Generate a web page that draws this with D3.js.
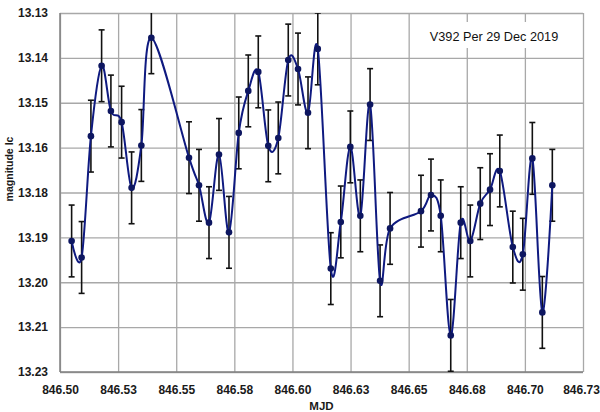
<!DOCTYPE html>
<html>
<head>
<meta charset="utf-8">
<script src="https://cdn.jsdelivr.net/npm/d3@7"></script>
<style>
  body { margin: 0; background: #fff; }
  svg { display: block; font-family: "Liberation Sans", Arial, sans-serif; }
</style>
</head>
<body>
<script>
// light curve data
const mjd = [846.5050, 846.5093, 846.5133, 846.5179, 846.5219, 846.5265, 846.5308, 846.5350, 846.5393,
  846.5555, 846.5598, 846.5641, 846.5684, 846.5727, 846.5769, 846.5810, 846.5853, 846.5896, 846.5939,
  846.5982, 846.6024, 846.6067, 846.6109, 846.6165, 846.6208, 846.6249, 846.6292, 846.6334, 846.6377,
  846.6420, 846.6553, 846.6596, 846.6638, 846.6681, 846.6724, 846.6765, 846.6808, 846.6850, 846.6892,
  846.6948, 846.6991, 846.7032, 846.7075, 846.7118];
const mag = [13.1935, 13.1981, 13.1643, 13.1447, 13.1573, 13.1604, 13.1787, 13.1669, 13.1369,
  13.1703, 13.1780, 13.1884, 13.1694, 13.1911, 13.1634, 13.1517, 13.1464, 13.1670, 13.1648,
  13.1431, 13.1456, 13.1578, 13.1400, 13.2012, 13.1882, 13.1673, 13.1865, 13.1555, 13.2046,
  13.1900, 13.1852, 13.1807, 13.1865, 13.2198, 13.1884, 13.1935, 13.1831, 13.1792, 13.1740,
  13.1952, 13.1972, 13.1705, 13.2134, 13.1780];
const magErr = [0.01, 0.01, 0.01, 0.01, 0.01, 0.01, 0.01, 0.01, 0.01, 0.01, 0.01, 0.01, 0.01, 0.01, 0.01,
  0.01, 0.01, 0.01, 0.01, 0.01, 0.01, 0.01, 0.01, 0.01, 0.01, 0.01, 0.01, 0.01, 0.01, 0.01,
  0.01, 0.01, 0.01, 0.01, 0.01, 0.01, 0.01, 0.01, 0.01, 0.01, 0.01, 0.01, 0.01, 0.01];

const xTicks = [846.5, 846.525, 846.55, 846.575, 846.6, 846.625, 846.65, 846.675, 846.7, 846.725];
const xTickLabels = ["846.50", "846.53", "846.55", "846.58", "846.60", "846.63", "846.65", "846.68", "846.70", "846.73"];
const yTicks = [13.13, 13.1425, 13.155, 13.1675, 13.18, 13.1925, 13.205, 13.2175, 13.23];
const yTickLabels = ["13.13", "13.14", "13.15", "13.16", "13.18", "13.19", "13.20", "13.21", "13.23"];

const width = 600, height = 412;
const margin = { top: 13, right: 17, bottom: 40, left: 60 };
const plotW = width - margin.left - margin.right;
const plotH = height - margin.top - margin.bottom;

const data = mjd.map((d, i) => ({ x: d, y: mag[i], e: magErr[i] }));

let svg = d3.select("body")
    .append("svg")
    .attr("width", width)
    .attr("height", height);

svg.append("rect").attr("width", width).attr("height", height).attr("fill", "#fff");

let g = svg.append("g")
    .attr("transform", `translate(${margin.left}, ${margin.top})`);

let x = d3.scaleLinear()
    .domain([xTicks[0], xTicks[xTicks.length - 1]])
    .range([0, plotW]);

// magnitude axis runs downward
let y = d3.scaleLinear()
    .domain([yTicks[0], yTicks[yTicks.length - 1]])
    .range([0, plotH]);

//grid + x axis
let xAxis = g.append("g")
    .attr("transform", `translate(0, ${plotH})`)
    .call(d3.axisBottom(x)
        .tickValues(xTicks)
        .tickSize(plotH)
        .tickFormat((d, i) => xTickLabels[i]));
xAxis.select(".domain").remove();
xAxis.selectAll(".tick line")
    .attr("y2", -plotH)
    .attr("stroke", "#a8a8a8")
    .attr("stroke-width", 1.3);
xAxis.selectAll(".tick text")
    .attr("y", 22)
    .attr("dy", 0)
    .attr("dx", (d, i) => i === xTicks.length - 1 ? -2 : 0)
    .style("font-size", "12px")
    .style("font-weight", "bold")
    .attr("fill", "#1a1a1a");

//grid + y axis
let yAxis = g.append("g")
    .call(d3.axisLeft(y)
        .tickValues(yTicks)
        .tickSize(0)
        .tickFormat((d, i) => yTickLabels[i]));
yAxis.select(".domain").remove();
yAxis.selectAll(".tick line")
    .attr("x2", plotW)
    .attr("stroke", "#a8a8a8")
    .attr("stroke-width", 1.3);
yAxis.selectAll(".tick text")
    .attr("x", -12)
    .style("font-size", "12px")
    .style("font-weight", "bold")
    .attr("fill", "#1a1a1a");

// darker left and bottom axis lines
g.append("line").attr("x1", 0).attr("x2", 0).attr("y1", 0).attr("y2", plotH)
    .attr("stroke", "#808080").attr("stroke-width", 1.5);
g.append("line").attr("x1", 0).attr("x2", plotW).attr("y1", plotH).attr("y2", plotH)
    .attr("stroke", "#808080").attr("stroke-width", 1.5);

// title box sits over the grid
svg.append("rect")
    .attr("x", 420).attr("y", 22)
    .attr("width", 150).attr("height", 26)
    .attr("fill", "#fff");
svg.append("text")
    .attr("x", 494).attr("y", 41)
    .attr("text-anchor", "middle")
    .style("font-size", "12.7px")
    .attr("fill", "#111")
    .text("V392 Per 29 Dec 2019");

svg.append("clipPath").attr("id", "plot-clip")
    .append("rect").attr("width", plotW).attr("height", plotH);

let marks = g.append("g").attr("clip-path", "url(#plot-clip)");

//error bars
let bars = marks.append("g").selectAll("g")
    .data(data)
    .enter()
    .append("g")
    .attr("stroke", "#111")
    .attr("stroke-width", 1.6);
bars.append("line")
    .attr("x1", d => x(d.x)).attr("x2", d => x(d.x))
    .attr("y1", d => y(d.y - d.e)).attr("y2", d => y(d.y + d.e));
bars.append("line")
    .attr("x1", d => x(d.x) - 3).attr("x2", d => x(d.x) + 3)
    .attr("y1", d => y(d.y - d.e)).attr("y2", d => y(d.y - d.e));
bars.append("line")
    .attr("x1", d => x(d.x) - 3).attr("x2", d => x(d.x) + 3)
    .attr("y1", d => y(d.y + d.e)).attr("y2", d => y(d.y + d.e));

//smoothed line
marks.append("path")
    .datum(data)
    .attr("fill", "none")
    .attr("stroke", "#0f1a80")
    .attr("stroke-width", 2)
    .attr("d", d3.line()
        .x(d => x(d.x))
        .y(d => y(d.y))
        .curve(d3.curveCardinal.tension(0)));

marks.append("g").selectAll("circle")
    .data(data)
    .enter()
    .append("circle")
    .attr("cx", d => x(d.x))
    .attr("cy", d => y(d.y))
    .attr("r", 3.3)
    .attr("fill", "#0d1660");

//axis titles
svg.append("text")
    .attr("x", margin.left + plotW / 2)
    .attr("y", 410)
    .attr("text-anchor", "middle")
    .style("font-size", "11.5px")
    .style("font-weight", "bold")
    .attr("fill", "#1a1a1a")
    .text("MJD");

svg.append("text")
    .attr("transform", "translate(13, 169) rotate(-90)")
    .attr("text-anchor", "middle")
    .style("font-size", "10.5px")
    .style("font-weight", "bold")
    .attr("fill", "#1a1a1a")
    .text("magnitude Ic");
</script>
</body>
</html>
